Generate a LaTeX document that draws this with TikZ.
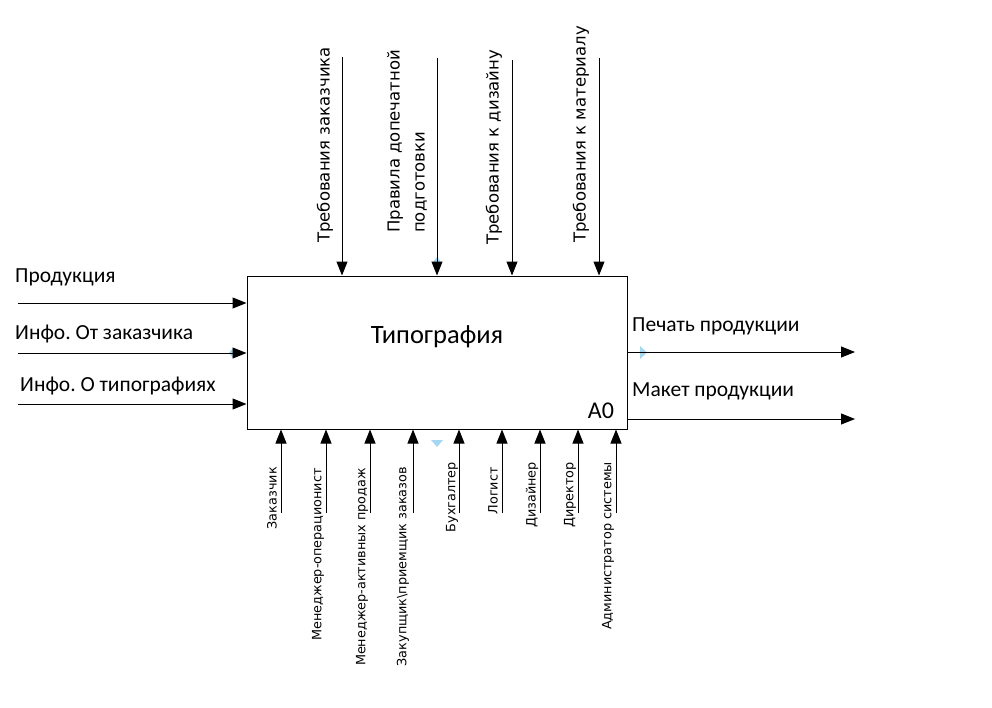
\documentclass[tikz,border=0pt]{standalone}
\usepackage{fontspec}
\setmainfont{Carlito}
\newfontfamily\labelfont{DejaVu Sans}
\usetikzlibrary{arrows.meta}
\definecolor{hintblue}{RGB}{165, 215, 240}
\frenchspacing

\begin{document}
\begin{tikzpicture}[
	x=1pt, y=-1pt,
	>={Triangle[length=14pt, width=11pt]},
	% Styles for arrows and labels
	flow/.style={->, line width=1pt, black},
	toplabel/.style={font=\labelfont\fontsize{16.5}{25}\selectfont, rotate=90, anchor=west, inner sep=0pt, align=left},
	sidelabel/.style={font=\fontsize{21.5}{24}\selectfont, anchor=west, inner sep=0pt},
	botlabel/.style={font=\labelfont\fontsize{12.8}{15}\selectfont, rotate=90, anchor=east, inner sep=0pt},
	hint/.style={fill=hintblue, draw=none}
	]
	\useasboundingbox (0,0) rectangle (992,707);

	% ==========================================
	% 1. FUNCTION BOX (A0)
	% ==========================================
	\node[draw, line width=1pt, minimum width=380pt, minimum height=153pt, inner sep=0pt] (func) at (437,352.5) {};
	\node[font=\fontsize{26.5}{30}\selectfont] (funcname) at (437,337) {Типография};
	\node[font=\fontsize{24}{26}\selectfont] (funcid) at (601,411) {A0};

	% Faint markers left by the editor
	\fill[hint] (437,257) -- (441,262) -- (437,267) -- (433,262) -- cycle;
	\fill[hint] (431,440) -- (443,440) -- (437,447) -- cycle;
	\fill[hint] (233,348) -- (237,353) -- (233,358) -- (229,353) -- cycle;
	\fill[hint] (640,346) -- (647,352.5) -- (640,359) -- cycle;

	% ==========================================
	% 2. CONTROLS (top)
	% ==========================================
	\coordinate (ctl1) at (342,57);
	\coordinate (ctl2) at (437,58);
	\coordinate (ctl3) at (512,60);
	\coordinate (ctl4) at (599,58);
	\draw[flow] (ctl1) -- (ctl1 |- func.north);
	\draw[flow] (ctl2) -- (ctl2 |- func.north);
	\draw[flow] (ctl3) -- (ctl3 |- func.north);
	\draw[flow] (ctl4) -- (ctl4 |- func.north);
	\node[toplabel] (ctltext1) at (325,243) {Требования заказчика};
	\node[toplabel] (ctltext2) at (407,233) {Правила допечатной\\подготовки};
	\node[toplabel] (ctltext3) at (494,245) {Требования к дизайну};
	\node[toplabel] (ctltext4) at (581,243) {Требования к материалу};

	% ==========================================
	% 3. INPUTS (left)
	% ==========================================
	\coordinate (in1) at (18,303);
	\coordinate (in2) at (18,353);
	\coordinate (in3) at (18,404);
	\draw[flow] (in1) -- (in1 -| func.west);
	\draw[flow] (in2) -- (in2 -| func.west);
	\draw[flow] (in3) -- (in3 -| func.west);
	\node[sidelabel] (intext1) at (15,277) {Продукция};
	\node[sidelabel] (intext2) at (15,334) {Инфо. От заказчика};
	\node[sidelabel] (intext3) at (20,386) {Инфо. О типографиях};

	% ==========================================
	% 4. OUTPUTS (right)
	% ==========================================
	\coordinate (out1) at (855,352);
	\coordinate (out2) at (855,419);
	\draw[flow] (out1 -| func.east) -- (out1);
	\draw[flow] (out2 -| func.east) -- (out2);
	\node[sidelabel] (outtext1) at (632,326) {Печать продукции};
	\node[sidelabel] (outtext2) at (632,391) {Макет продукции};

	% ==========================================
	% 5. MECHANISMS (bottom)
	% ==========================================
	\coordinate (mech1) at (281,513);
	\coordinate (mech2) at (326,513);
	\coordinate (mech3) at (370,513);
	\coordinate (mech4) at (413,513);
	\coordinate (mech5) at (459,513);
	\coordinate (mech6) at (502,513);
	\coordinate (mech7) at (540,513);
	\coordinate (mech8) at (578,513);
	\coordinate (mech9) at (616,513);
	\draw[flow] (mech1) -- (mech1 |- func.south);
	\draw[flow] (mech2) -- (mech2 |- func.south);
	\draw[flow] (mech3) -- (mech3 |- func.south);
	\draw[flow] (mech4) -- (mech4 |- func.south);
	\draw[flow] (mech5) -- (mech5 |- func.south);
	\draw[flow] (mech6) -- (mech6 |- func.south);
	\draw[flow] (mech7) -- (mech7 |- func.south);
	\draw[flow] (mech8) -- (mech8 |- func.south);
	\draw[flow] (mech9) -- (mech9 |- func.south);
	\node[botlabel] (mechtext1) at (272,467) {Заказчик};
	\node[botlabel] (mechtext2) at (318,468) {Менеджер-операционист};
	\node[botlabel] (mechtext3) at (362,468) {Менеджер-активных продаж};
	\node[botlabel] (mechtext4) at (403,467) {Закупщик\textbackslash приемщик заказов};
	\node[botlabel] (mechtext5) at (452,462) {Бухгалтер};
	\node[botlabel] (mechtext6) at (493,467) {Логист};
	\node[botlabel] (mechtext7) at (532,462) {Дизайнер};
	\node[botlabel] (mechtext8) at (570,462) {Директор};
	\node[botlabel] (mechtext9) at (608,462) {Администратор системы};

\end{tikzpicture}
\end{document}
